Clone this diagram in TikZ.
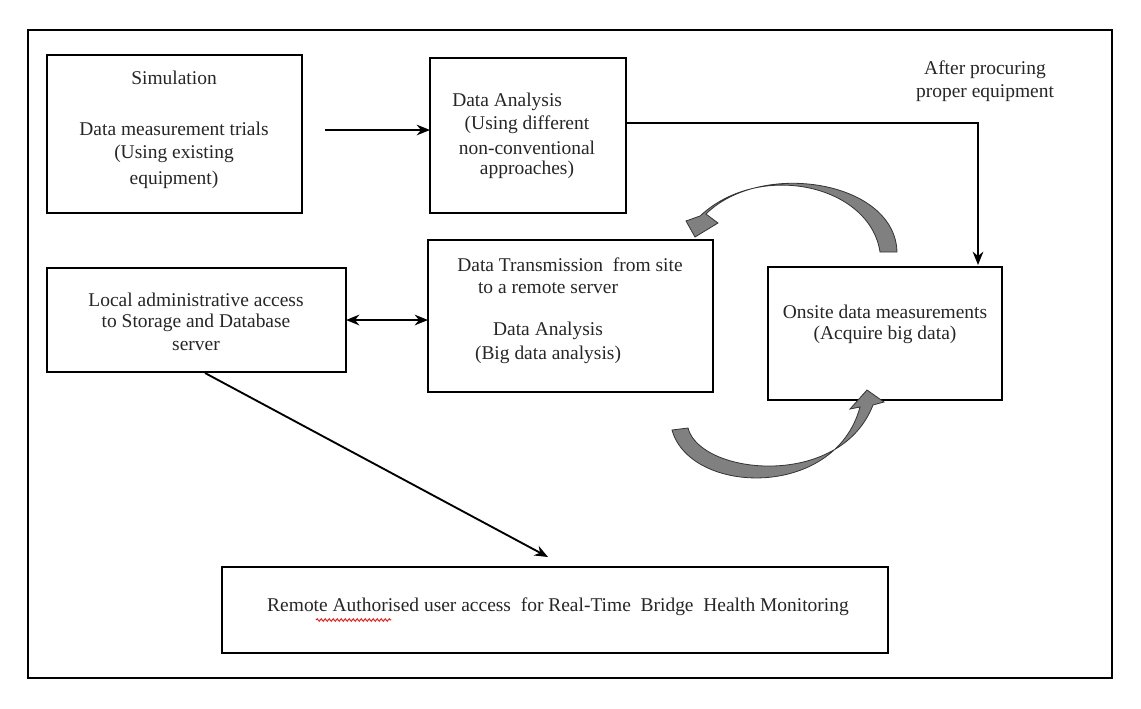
\documentclass[tikz,border=0pt]{standalone}
\usepackage{fontspec}
\setmainfont{Liberation Serif}
\usetikzlibrary{arrows.meta,decorations.pathmorphing}
\begin{document}
\begin{tikzpicture}[x=0.75pt,y=-0.75pt,
  box/.style={draw,line width=1.7pt},
  txt/.style={font=\fontsize{14.6}{17}\selectfont,text=black!85,inner sep=0pt,anchor=center},
  conn/.style={line width=1.4pt,-{Stealth[length=10pt,width=8pt]}},
  curv/.style={fill=black!50,draw=black!80,line width=0.6pt}]
\useasboundingbox (0,0) rectangle (1141,708);
\draw[line width=1.7pt] (28,30) rectangle (1112,678);
\path (47,55) coordinate (simA) (302,213) coordinate (simB);
\draw[box] (simA) rectangle (simB);
\node[txt] (t1) at (174,78) {Simulation};
\node[txt] (t2) at (174,129) {Data measurement trials};
\node[txt] (t3) at (174,154) {(Using existing};
\node[txt] (t4) at (174,180) {equipment)};
\path (430,58) coordinate (daA) (626,213) coordinate (daB);
\draw[box] (daA) rectangle (daB);
\node[txt,anchor=west] at (452,102) (d1) {Data Analysis};
\node[txt] at (527,125) (d2) {(Using different};
\node[txt] at (527,148) (d3) {non-conventional};
\node[txt] at (527,170) (d4) {approaches)};
\node[txt] at (985,70) (a1) {After procuring};
\node[txt] at (985,93) (a2) {proper equipment};
\path (768,267) coordinate (onA) (1002,400) coordinate (onB);
\draw[box] (onA) rectangle (onB);
\node[txt] at (885,312) (o1) {Onsite data measurements};
\node[txt] at (885,335) (o2) {(Acquire big data)};
\path (428,240) coordinate (trA) (713,392) coordinate (trB);
\draw[box] (trA) rectangle (trB);
\node[txt] at (570,265) (r1) {Data Transmission\ \ from site};
\node[txt] at (548,288) (r2) {to a remote server};
\node[txt] at (548,331) (r3) {Data Analysis};
\node[txt] at (548,355) (r4) {(Big data analysis)};
\path (47,268) coordinate (loA) (346,372) coordinate (loB);
\draw[box] (loA) rectangle (loB);
\node[txt] at (196,300) (l1) {Local administrative access};
\node[txt] at (196,323) (l2) {to Storage and Database};
\node[txt] at (196,346) (l3) {server};
\path (222,567) coordinate (reA) (888,653) coordinate (reB);
\draw[box] (reA) rectangle (reB);
\node[txt] at (558,607) (e1) {Remote Authorised user access\ \ for Real-Time\ \ Bridge\ \ Health Monitoring};
\draw[red,line width=0.6pt,decorate,decoration={snake,amplitude=1pt,segment length=3pt}] (316,620) -- (391,620);
% connectors
\draw[conn] (325,130) -- (daA |- 0,130);
\draw[conn] (daB |- 0,123) -- (978,123) -- (978,265);
\draw[line width=1.4pt,{Stealth[length=10pt,width=8pt]}-{Stealth[length=10pt,width=8pt]}] (loB |- 0,320) -- (trA |- 0,320);
\draw[conn] (205,373) -- (548,557);
% curved arrows
\draw[curv] (897,252) .. controls (895,180) and (760,160) .. (706,214) -- (718,223) -- (695,237) -- (686,221) -- (700,216) .. controls (760,160) and (870,185) .. (880,252) -- cycle;
\draw[curv] (672,430) .. controls (690,495) and (835,500) .. (860,407) -- (850,409) -- (867,390) -- (884,402) -- (873,405) .. controls (840,490) and (700,475) .. (688,428) -- cycle;
\end{tikzpicture}
\end{document}
